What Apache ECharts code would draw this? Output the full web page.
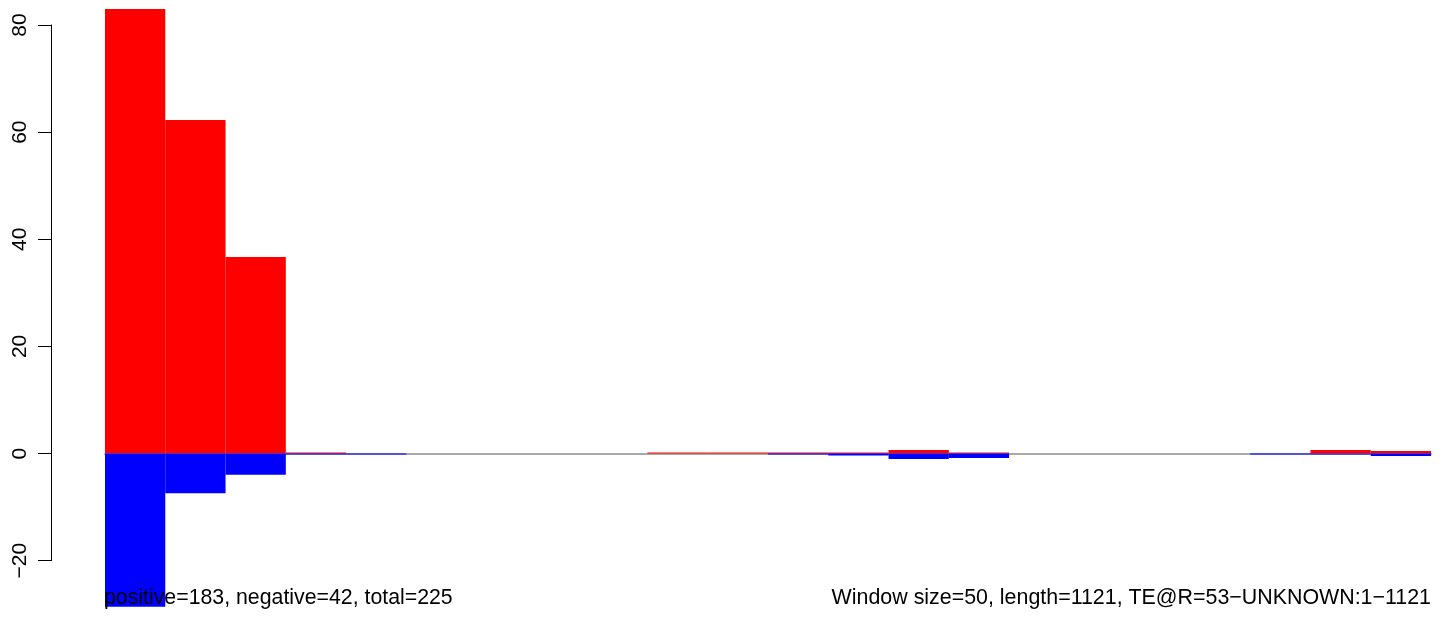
<!DOCTYPE html>
<html>
<head>
<meta charset="utf-8">
<script src="https://cdn.jsdelivr.net/npm/echarts@6/dist/echarts.min.js"></script>
<style>html,body{margin:0;padding:0;background:#fff}#c{width:1444px;height:618px}</style>
</head>
<body>
<div id="c"></div>
<script>
// Window bins (22 windows of 50 bp over length 1121)
const windows = ['1','2','3','4','5','6','7','8','9','10','11','12','13','14','15','16','17','18','19','20','21','22'];
const positiveValues = [83.0, 62.25, 36.7, 0.19, 0, 0, 0, 0, 0, 0.19, 0.19, 0.19, 0.19, 0.65, 0.19, 0, 0, 0, 0, 0, 0.65, 0.47];
const negativeValues = [-28.6, -7.43, -3.95, -0.19, -0.19, 0, 0, 0, 0, 0, 0, -0.19, -0.37, -1.0, -0.85, 0, 0, 0, 0, -0.19, -0.19, -0.45];
const yTicks = [-20, 0, 20, 40, 60, 80];
const leftNote = 'positive=183, negative=42, total=225';
const rightNote = 'Window size=50, length=1121, TE@R=53\u2212UNKNOWN:1\u22121121';

const FONT = '"Liberation Sans", Arial, Helvetica, sans-serif';
const chart = echarts.init(document.getElementById('c'), null, {renderer: 'canvas'});
chart.setOption({
  animation: false,
  backgroundColor: '#ffffff',
  grid: {left: 105, right: 13, top: 25, bottom: 57.3, containLabel: false},
  title: [
    {text: leftNote, left: 104, top: 588, padding: 0,
     textStyle: {fontFamily: FONT, fontSize: 21.3, fontWeight: 'normal', color: '#000'}},
    {text: rightNote, right: 13, top: 588, padding: 0,
     textStyle: {fontFamily: FONT, fontSize: 21.4, fontWeight: 'normal', color: '#000'}}
  ],
  xAxis: {
    type: 'category',
    data: windows,
    boundaryGap: true,
    axisLine: {onZero: true, lineStyle: {color: '#A9A9A9', width: 2}},
    axisTick: {show: false},
    axisLabel: {show: false},
    splitLine: {show: false}
  },
  yAxis: {
    type: 'value',
    min: yTicks[0],
    max: yTicks[yTicks.length - 1],
    interval: 20,
    offset: 54,
    axisLine: {show: true, lineStyle: {color: '#000', width: 1}},
    axisTick: {show: true, length: 13, lineStyle: {color: '#000', width: 1}},
    axisLabel: {
      rotate: 90, margin: 31, align: 'center', verticalAlign: 'middle',
      fontFamily: FONT, fontSize: 21, color: '#000',
      formatter: v => (v < 0 ? '\u2212' + Math.abs(v) : String(v))
    },
    splitLine: {show: false}
  },
  series: [
    {type: 'bar', name: 'positive', data: positiveValues, barCategoryGap: 0, barGap: '-100%',
     clip: false, itemStyle: {color: '#FF0000'}},
    {type: 'bar', name: 'negative', data: negativeValues, barCategoryGap: 0, barGap: '-100%',
     clip: false, itemStyle: {color: '#0000FF'}}
  ]
});
</script>
</body>
</html>
